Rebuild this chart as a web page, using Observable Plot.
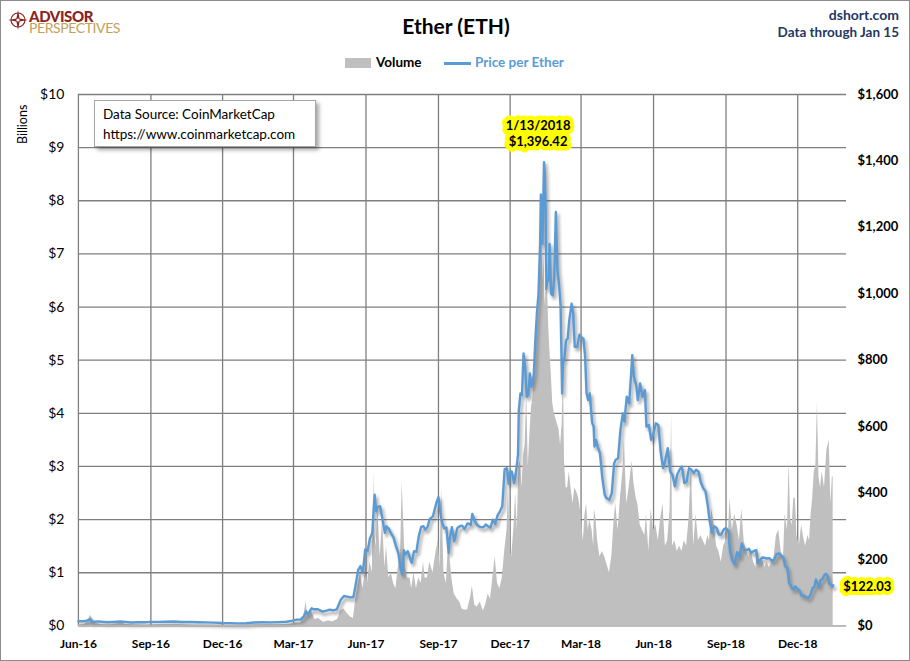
<!DOCTYPE html>
<html>
<head>
<meta charset="utf-8">
<script src="https://cdn.jsdelivr.net/npm/d3@7"></script>
<script src="https://cdn.jsdelivr.net/npm/@observablehq/plot@0.6"></script>
<style>
  html, body { margin: 0; padding: 0; background: #fff; }
  #wrap { position: relative; width: 910px; height: 661px; box-sizing: border-box; border: 1px solid #8c8c8c; background: #fff; font-family: Lato, "Liberation Sans", sans-serif; overflow: hidden; }
  .abs { position: absolute; white-space: nowrap; }
  #chart { position: absolute; left: -1px; top: 79px; }
  #logo { white-space: pre; font-size: 14px; line-height: 12px; color: #c2a05a; letter-spacing: -0.4px; }
  #logo::first-line { font-size: 15px; font-weight: 900; color: #8b2323; }
</style>
</head>
<body>
<div id="wrap">
  <svg class="abs" style="left:7px;top:9px" width="20" height="20" viewBox="0 0 20 20">
    <circle cx="10" cy="10" r="7" fill="none" stroke="#8b2323" stroke-width="1.2"/>
    <path d="M10 0 L11.6 8.4 L20 10 L11.6 11.6 L10 20 L8.4 11.6 L0 10 L8.4 8.4 Z" fill="#8b2323"/>
    <circle cx="10" cy="10" r="1.6" fill="#fff"/>
  </svg>
  <div id="logo" class="abs" style="left:28px;top:9px">ADVISOR
PERSPECTIVES</div>
  <div class="abs" style="left:0;width:910px;top:12px;text-align:center;font-size:21px;font-weight:bold;color:#000">Ether (ETH)</div>
  <div class="abs" style="right:10px;top:5px;font-size:14px;font-weight:bold;color:#1f3864;text-align:right">dshort.com</div>
  <div class="abs" style="right:10px;top:23px;font-size:13.5px;font-weight:bold;color:#1f3864;text-align:right">Data through Jan 15</div>
  <div class="abs" style="left:344px;top:57px;width:26px;height:10px;background:#bfbfbf"></div>
  <div class="abs" style="left:375px;top:53px;font-size:13.5px;font-weight:bold;color:#000">Volume</div>
  <div class="abs" style="left:443px;top:61px;width:27px;height:2.5px;background:#5b9bd5"></div>
  <div class="abs" style="left:474px;top:53px;font-size:13.5px;font-weight:bold;color:#5b9bd5">Price per Ether</div>
  <div class="abs" style="left:14px;top:143px;font-size:12.5px;color:#000;transform:rotate(-90deg);transform-origin:0 0">Billions</div>
  <div id="chart"></div>
  <div class="abs" style="left:93px;top:99px;width:222px;height:47px;box-sizing:border-box;border:1px solid #a6a6a6;background:#fff;box-shadow:3px 3px 4px rgba(0,0,0,0.35);padding:3px 8px;font-size:13.5px;line-height:20px;color:#000">Data Source: CoinMarketCap<br>https://www.coinmarketcap.com</div>
</div>
<script>
// ---------- DATA ----------
const xTickDates = ["2016-06-01","2016-09-01","2016-12-01","2017-03-01","2017-06-01","2017-09-01","2017-12-01","2018-03-01","2018-06-01","2018-09-01","2018-12-01"];
const xDomain = ["2016-06-01","2019-02-01"];
const volumeTicks = [0,1,2,3,4,5,6,7,8,9,10];           // $ billions
const priceTicks = [0,200,400,600,800,1000,1200,1400,1600]; // $ per ether
const priceMax = 1600, volumeMax = 10;

const price2016 = [
["2016-06-01",14.0],["2016-06-06",13.8],["2016-06-10",14.6],["2016-06-13",17.5],["2016-06-16",20.6],["2016-06-17",16.5],["2016-06-18",11.5],["2016-06-22",13.0],["2016-06-26",13.5],
["2016-07-01",12.3],["2016-07-08",11.0],["2016-07-15",11.8],["2016-07-20",12.5],["2016-07-24",13.2],["2016-07-31",12.0],["2016-08-07",10.3],["2016-08-15",11.0],["2016-08-25",11.2],
["2016-09-01",12.0],["2016-09-10",12.0],["2016-09-20",12.7],["2016-09-30",13.2],["2016-10-10",11.8],["2016-10-20",12.0],["2016-10-31",11.0],["2016-11-10",10.5],["2016-11-20",9.7],
["2016-11-30",8.7],["2016-12-10",8.3],["2016-12-20",7.7],["2016-12-31",8.0]
];
const price2017 = [
["2017-01-10",10.3],["2017-01-20",10.8],["2017-01-31",10.7],["2017-02-10",11.4],["2017-02-20",12.4],["2017-02-28",15.7],["2017-03-05",19.0],["2017-03-10",19.2],["2017-03-14",28.5],
["2017-03-17",44],["2017-03-19",35],["2017-03-24",53],["2017-03-27",50],["2017-04-01",50],["2017-04-07",43],["2017-04-12",46],["2017-04-16",49],["2017-04-20",47],["2017-04-25",50],
["2017-04-30",79],["2017-05-04",90],["2017-05-08",88],["2017-05-12",86],["2017-05-16",87],["2017-05-19",125],["2017-05-22",168],["2017-05-25",180],["2017-05-28",160],["2017-05-31",230],
["2017-06-03",225],["2017-06-06",263],["2017-06-09",280],["2017-06-12",395],["2017-06-14",345],["2017-06-16",359],["2017-06-19",360],["2017-06-22",320],["2017-06-25",280],["2017-06-27",300],
["2017-06-30",292],["2017-07-03",278],["2017-07-06",266],["2017-07-09",240],["2017-07-12",220],["2017-07-15",172],["2017-07-17",155],["2017-07-19",228],["2017-07-21",215],["2017-07-24",225],
["2017-07-27",203],["2017-07-29",190],["2017-08-01",225],["2017-08-04",223],["2017-08-07",270],["2017-08-10",298],["2017-08-13",300],["2017-08-15",290],["2017-08-18",297],["2017-08-21",322],
["2017-08-25",330],["2017-08-29",368],["2017-09-01",388],["2017-09-03",348],["2017-09-05",317],["2017-09-08",294],["2017-09-11",296],["2017-09-14",220],["2017-09-15",258],["2017-09-18",297],
["2017-09-21",255],["2017-09-25",295],["2017-09-28",300],["2017-10-01",302],["2017-10-04",292],["2017-10-08",309],["2017-10-12",304],["2017-10-14",337],["2017-10-17",316],["2017-10-20",304],
["2017-10-24",298],["2017-10-28",297],["2017-10-31",305],["2017-11-03",300],["2017-11-06",296],["2017-11-09",320],["2017-11-12",307],["2017-11-15",333],["2017-11-18",345],["2017-11-21",360],
["2017-11-24",472],["2017-11-27",475],["2017-11-29",428],["2017-12-01",462],["2017-12-03",465],["2017-12-06",430],["2017-12-08",455],["2017-12-11",515],["2017-12-12",650],["2017-12-14",700],
["2017-12-16",695],["2017-12-18",820],["2017-12-20",780],["2017-12-22",690],["2017-12-24",694],["2017-12-26",760],["2017-12-28",720],["2017-12-31",755]
];
const price2018 = [
["2018-01-02",862],["2018-01-04",942],["2018-01-06",1000],["2018-01-08",1150],["2018-01-09",1299],["2018-01-10",1255],["2018-01-11",1150],["2018-01-12",1273],["2018-01-13",1396.42],
["2018-01-14",1366],["2018-01-15",1260],["2018-01-16",1015],["2018-01-17",1040],["2018-01-19",1040],["2018-01-20",1150],["2018-01-22",1000],["2018-01-24",995],["2018-01-26",1050],
["2018-01-28",1246],["2018-01-30",1070],["2018-02-01",1030],["2018-02-03",965],["2018-02-05",700],["2018-02-06",790],["2018-02-08",810],["2018-02-10",860],["2018-02-12",865],
["2018-02-14",920],["2018-02-17",970],["2018-02-19",940],["2018-02-21",840],["2018-02-24",840],["2018-02-27",877],["2018-03-01",870],["2018-03-04",864],["2018-03-06",815],
["2018-03-08",700],["2018-03-10",680],["2018-03-12",700],["2018-03-15",612],["2018-03-17",600],["2018-03-18",540],["2018-03-20",560],["2018-03-22",540],["2018-03-25",520],
["2018-03-28",445],["2018-03-31",395],["2018-04-02",385],["2018-04-06",380],["2018-04-09",400],["2018-04-12",490],["2018-04-14",500],["2018-04-17",505],["2018-04-20",590],
["2018-04-23",640],["2018-04-25",615],["2018-04-28",690],["2018-05-01",670],["2018-05-04",775],["2018-05-05",815],["2018-05-07",750],["2018-05-10",725],["2018-05-12",680],
["2018-05-15",730],["2018-05-18",690],["2018-05-21",710],["2018-05-23",600],["2018-05-26",605],["2018-05-29",560],["2018-06-01",580],["2018-06-04",610],["2018-06-07",605],
["2018-06-10",525],["2018-06-13",475],["2018-06-16",500],["2018-06-19",535],["2018-06-22",465],["2018-06-25",455],["2018-06-28",420],["2018-07-01",455],["2018-07-04",470],
["2018-07-07",480],["2018-07-10",430],["2018-07-13",435],["2018-07-16",475],["2018-07-19",470],["2018-07-22",460],["2018-07-25",470],["2018-07-28",465],["2018-07-31",432],
["2018-08-03",415],["2018-08-06",405],["2018-08-09",360],["2018-08-11",320],["2018-08-14",280],["2018-08-17",300],["2018-08-20",295],["2018-08-23",275],["2018-08-26",275],
["2018-08-29",290],["2018-09-01",295],["2018-09-04",285],["2018-09-06",225],["2018-09-09",198],["2018-09-12",185],["2018-09-15",222],["2018-09-18",208],["2018-09-21",248],
["2018-09-24",230],["2018-09-27",228],["2018-09-30",232],["2018-10-03",220],["2018-10-06",225],["2018-10-09",228],["2018-10-11",189],["2018-10-14",198],["2018-10-17",206],
["2018-10-20",205],["2018-10-23",203],["2018-10-26",204],["2018-10-29",196],["2018-11-01",199],["2018-11-04",216],["2018-11-07",218],["2018-11-10",212],["2018-11-13",205],
["2018-11-15",180],["2018-11-18",175],["2018-11-20",128],["2018-11-22",124],["2018-11-24",112],["2018-11-26",110],["2018-11-28",119],["2018-11-30",113],["2018-12-03",107],
["2018-12-06",91],["2018-12-08",92],["2018-12-11",88],["2018-12-14",84],["2018-12-16",88],["2018-12-18",100],["2018-12-20",115],["2018-12-22",116],["2018-12-24",140],
["2018-12-26",129],["2018-12-28",117],["2018-12-30",138]
];
const price2019 = [
["2019-01-01",140],["2019-01-04",154],["2019-01-06",157],["2019-01-08",150],["2019-01-10",126],["2019-01-12",126],["2019-01-14",118],["2019-01-15",122.03]
];

const volume2016 = [
["2016-06-01",0.02],["2016-06-08",0.02],["2016-06-13",0.08],["2016-06-16",0.2],["2016-06-18",0.16],["2016-06-21",0.1],["2016-06-25",0.04],["2016-07-02",0.02],["2016-07-12",0.02],
["2016-07-20",0.04],["2016-07-24",0.07],["2016-07-30",0.03],["2016-08-10",0.02],["2016-08-25",0.01],["2016-09-10",0.02],["2016-09-25",0.02],["2016-10-10",0.02],["2016-10-25",0.01],
["2016-11-10",0.01],["2016-11-25",0.01],["2016-12-10",0.01],["2016-12-25",0.01]
];
const volume2017 = [
["2017-01-10",0.02],["2017-01-25",0.02],["2017-02-10",0.02],["2017-02-25",0.03],["2017-03-03",0.06],["2017-03-10",0.05],["2017-03-14",0.18],["2017-03-17",0.45],["2017-03-19",0.22],
["2017-03-24",0.28],["2017-03-28",0.12],["2017-04-02",0.14],["2017-04-08",0.07],["2017-04-14",0.09],["2017-04-20",0.08],["2017-04-26",0.12],["2017-04-30",0.28],["2017-05-04",0.32],
["2017-05-08",0.24],["2017-05-12",0.17],["2017-05-16",0.14],["2017-05-19",0.5],["2017-05-22",0.8],["2017-05-25",1.0],["2017-05-28",0.7],["2017-05-31",1.0],["2017-06-03",0.8],
["2017-06-06",1.2],["2017-06-09",1.0],["2017-06-11",2.9],["2017-06-12",1.7],["2017-06-14",1.5],["2017-06-16",2.2],["2017-06-19",1.3],["2017-06-22",2.0],["2017-06-25",1.1],
["2017-06-27",1.5],["2017-06-30",0.9],["2017-07-03",1.0],["2017-07-06",0.8],["2017-07-09",0.7],["2017-07-12",1.1],["2017-07-15",1.4],["2017-07-17",2.7],["2017-07-19",1.9],
["2017-07-21",1.1],["2017-07-24",0.9],["2017-07-27",0.9],["2017-07-29",0.7],["2017-08-01",1.0],["2017-08-04",0.7],["2017-08-07",0.9],["2017-08-10",0.8],["2017-08-13",1.2],
["2017-08-15",0.9],["2017-08-18",0.9],["2017-08-21",1.2],["2017-08-25",1.0],["2017-08-29",1.4],["2017-09-01",1.6],["2017-09-03",1.1],["2017-09-05",2.6],["2017-09-08",1.0],
["2017-09-11",0.8],["2017-09-14",1.6],["2017-09-15",1.4],["2017-09-18",0.9],["2017-09-21",0.6],["2017-09-25",0.5],["2017-09-28",0.45],["2017-10-01",0.32],["2017-10-04",0.3],
["2017-10-08",0.3],["2017-10-12",0.55],["2017-10-14",0.75],["2017-10-17",0.4],["2017-10-20",0.35],["2017-10-24",0.45],["2017-10-28",0.28],["2017-10-31",0.4],["2017-11-03",0.6],
["2017-11-06",0.5],["2017-11-09",0.9],["2017-11-12",1.3],["2017-11-15",0.8],["2017-11-18",0.7],["2017-11-21",0.9],["2017-11-24",1.4],["2017-11-27",1.8],["2017-11-29",2.6],
["2017-12-01",1.4],["2017-12-03",1.3],["2017-12-06",1.9],["2017-12-08",2.5],["2017-12-10",1.8],["2017-12-12",3.0],["2017-12-14",3.1],["2017-12-16",2.6],["2017-12-18",3.2],
["2017-12-20",3.4],["2017-12-22",4.4],["2017-12-24",3.0],["2017-12-26",3.6],["2017-12-28",4.1],["2017-12-30",4.3],["2017-12-31",4.8]
];
const volume2018 = [
["2018-01-02",5.0],["2018-01-04",5.6],["2018-01-06",5.8],["2018-01-08",6.4],["2018-01-09",6.8],["2018-01-10",7.6],["2018-01-11",6.9],["2018-01-12",6.5],["2018-01-13",7.0],
["2018-01-14",6.2],["2018-01-15",6.0],["2018-01-16",7.2],["2018-01-17",6.6],["2018-01-19",5.6],["2018-01-20",5.3],["2018-01-22",4.8],["2018-01-24",4.2],["2018-01-26",4.0],
["2018-01-28",3.9],["2018-01-30",3.8],["2018-02-01",3.7],["2018-02-03",3.4],["2018-02-05",3.8],["2018-02-06",4.4],["2018-02-07",4.3],["2018-02-08",3.1],["2018-02-10",2.6],
["2018-02-12",2.6],["2018-02-14",2.9],["2018-02-17",2.5],["2018-02-19",2.3],["2018-02-21",2.6],["2018-02-24",2.5],["2018-02-26",2.4],["2018-02-28",2.2],["2018-03-01",2.0],
["2018-03-04",1.6],["2018-03-06",2.1],["2018-03-08",2.3],["2018-03-10",1.8],["2018-03-12",2.0],["2018-03-15",1.8],["2018-03-17",1.5],["2018-03-18",2.2],["2018-03-20",2.0],
["2018-03-22",1.6],["2018-03-25",1.3],["2018-03-28",1.4],["2018-03-31",1.3],["2018-04-02",1.2],["2018-04-06",1.0],["2018-04-09",1.3],["2018-04-12",2.0],["2018-04-14",2.3],
["2018-04-17",1.8],["2018-04-20",2.4],["2018-04-23",2.9],["2018-04-25",3.5],["2018-04-28",2.3],["2018-05-01",2.6],["2018-05-04",3.0],["2018-05-05",3.1],["2018-05-07",2.7],
["2018-05-10",2.4],["2018-05-12",2.3],["2018-05-15",1.9],["2018-05-18",1.8],["2018-05-21",1.7],["2018-05-23",2.1],["2018-05-26",1.4],["2018-05-29",2.2],["2018-06-01",1.8],
["2018-06-04",1.9],["2018-06-07",1.6],["2018-06-10",2.0],["2018-06-13",2.3],["2018-06-16",1.5],["2018-06-19",1.6],["2018-06-22",2.2],["2018-06-24",4.0],["2018-06-25",1.5],
["2018-06-28",1.6],["2018-07-01",1.4],["2018-07-04",1.5],["2018-07-07",1.4],["2018-07-10",1.6],["2018-07-13",1.5],["2018-07-16",2.0],["2018-07-19",3.0],["2018-07-22",1.5],
["2018-07-25",2.1],["2018-07-28",1.6],["2018-07-31",1.7],["2018-08-03",1.6],["2018-08-06",1.5],["2018-08-09",1.7],["2018-08-11",1.6],["2018-08-14",2.2],["2018-08-17",1.9],
["2018-08-20",1.5],["2018-08-23",1.4],["2018-08-26",1.2],["2018-08-29",1.5],["2018-09-01",1.6],["2018-09-04",1.7],["2018-09-06",2.4],["2018-09-09",1.8],["2018-09-12",2.1],
["2018-09-15",1.9],["2018-09-18",1.6],["2018-09-21",2.2],["2018-09-24",1.6],["2018-09-27",1.4],["2018-09-30",1.3],["2018-10-03",1.4],["2018-10-06",1.2],["2018-10-09",1.1],
["2018-10-11",1.5],["2018-10-14",1.2],["2018-10-17",1.3],["2018-10-20",1.1],["2018-10-23",1.2],["2018-10-26",1.1],["2018-10-29",1.2],["2018-11-01",1.3],["2018-11-04",1.7],
["2018-11-07",1.8],["2018-11-10",1.4],["2018-11-13",1.3],["2018-11-15",2.1],["2018-11-18",1.8],["2018-11-20",3.1],["2018-11-22",2.0],["2018-11-24",1.9],["2018-11-26",2.4],
["2018-11-28",2.4],["2018-11-30",1.7],["2018-12-03",1.5],["2018-12-06",1.9],["2018-12-08",1.7],["2018-12-11",1.5],["2018-12-14",1.7],["2018-12-16",1.6],["2018-12-18",2.1],
["2018-12-20",2.4],["2018-12-22",2.9],["2018-12-24",3.0],["2018-12-26",4.2],["2018-12-28",2.8],["2018-12-30",2.6]
];
const volume2019 = [
["2019-01-01",2.9],["2019-01-04",2.6],["2019-01-07",3.3],["2019-01-10",3.5],["2019-01-12",2.3],["2019-01-14",2.8],["2019-01-15",2.8]
];

// ---------- BUILD ----------
const parse = d3.utcParse("%Y-%m-%d");
const toRows = arr => arr.map(([d, v]) => ({date: parse(d), value: v}));
const price = toRows([...price2016, ...price2017, ...price2018, ...price2019]);
const volume = toRows([...volume2016, ...volume2017, ...volume2018, ...volume2019]);
const pScale = volumeMax / priceMax; // map price onto the billions axis
const peak = price.reduce((a, b) => (b.value > a.value ? b : a));
const last = price[price.length - 1];
const fmtPrice = d3.format("$,.2f");
const fmtDate = d => `${d.getUTCMonth() + 1}/${d.getUTCDate()}/${d.getUTCFullYear()}`;
const xTicks = xTickDates.map(parse);
const gridColor = "#7f7f7f";

const chart = Plot.plot({
  width: 910,
  height: 581,
  marginLeft: 78,
  marginRight: 63,
  marginTop: 14,
  marginBottom: 35,
  style: {fontFamily: "Lato, 'Liberation Sans', sans-serif", background: "transparent", overflow: "visible"},
  x: {type: "utc", domain: xDomain.map(parse)},
  y: {domain: [0, volumeMax]},
  marks: [
    Plot.gridY(volumeTicks, {stroke: gridColor, strokeOpacity: 1, strokeWidth: 1.3}),
    Plot.gridX(xTicks, {stroke: gridColor, strokeOpacity: 1, strokeWidth: 1.3}),
    Plot.areaY(volume, {x: "date", y: "value", fill: "#bfbfbf"}),
    Plot.lineY(price, {x: "date", y: d => d.value * pScale, stroke: "#555", strokeOpacity: 0.45, strokeWidth: 3, dx: 2, dy: 3, imageFilter: "blur(1.6px)"}),
    Plot.lineY(price, {x: "date", y: d => d.value * pScale, stroke: "#5b9bd5", strokeWidth: 2.4, strokeLinejoin: "round"}),
    Plot.ruleY([0], {stroke: "#bfbfbf", strokeWidth: 1.3}),
    Plot.axisY(volumeTicks, {anchor: "left", tickSize: 0, tickPadding: 14, tickFormat: d => "$" + d, fontSize: 14, fill: "#000", label: null}),
    Plot.axisY(priceTicks.map(p => p * pScale), {anchor: "right", tickSize: 0, tickPadding: 11, tickFormat: d => "$" + d3.format(",")(Math.round(d / pScale)), fontSize: 13, fontWeight: "bold", fill: "#000", label: null}),
    Plot.axisX(xTicks, {tickSize: 0, tickPadding: 14, tickFormat: d3.utcFormat("%b-%y"), fontSize: 12, fontWeight: "bold", fill: "#000", label: null}),
    Plot.text([peak], {x: "date", y: d => d.value * pScale, text: d => fmtDate(d.date) + "\n" + fmtPrice(d.value), lineAnchor: "bottom", dx: -6, dy: -16, fontSize: 13, fontWeight: "bold", fill: "#000", stroke: "#ffff00", strokeWidth: 9, strokeLinejoin: "round", paintOrder: "stroke", lineHeight: 1.25}),
    Plot.text([last], {x: "date", y: d => d.value * pScale, text: d => fmtPrice(d.value), textAnchor: "start", dx: 10, dy: 1, fontSize: 13, fontWeight: "bold", fill: "#000", stroke: "#ffff00", strokeWidth: 8, strokeLinejoin: "round", paintOrder: "stroke"})
  ]
});
document.getElementById("chart").appendChild(chart);
</script>
</body>
</html>
